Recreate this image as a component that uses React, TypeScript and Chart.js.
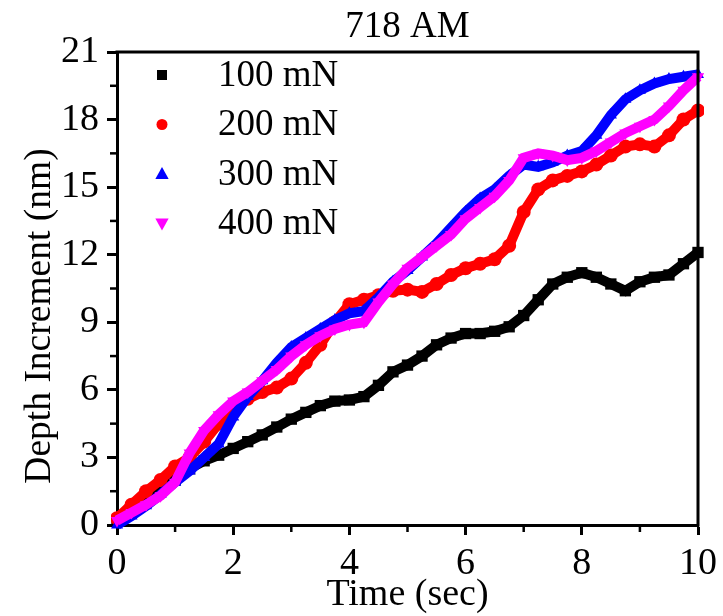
import React, { useEffect, useRef } from 'react';
import { Chart, registerables } from 'chart.js';

Chart.register(...registerables);

const timeSec = [
  0, 0.25, 0.5, 0.75, 1, 1.25, 1.5, 1.75, 2, 2.25, 2.5, 2.75, 3, 3.25, 3.5, 3.75, 4, 4.25, 4.5, 4.75,
  5, 5.25, 5.5, 5.75, 6, 6.25, 6.5, 6.75, 7, 7.25, 7.5, 7.75, 8, 8.25, 8.5, 8.75, 9, 9.25, 9.5, 9.75, 10,
];

const depth100 = [
  0.2, 0.6, 1.0, 1.5, 2.0, 2.5, 2.85, 3.1, 3.4, 3.7, 4.0, 4.35, 4.7, 5.0, 5.3, 5.5, 5.55, 5.7, 6.2, 6.8,
  7.1, 7.5, 8.0, 8.3, 8.5, 8.5, 8.6, 8.8, 9.3, 10.0, 10.7, 11.0, 11.2, 11.0, 10.7, 10.4, 10.8, 11.0, 11.1, 11.6, 12.1,
];

const depth200 = [
  0.3, 0.9, 1.5, 2.0, 2.6, 3.0, 3.7, 4.5, 5.2, 5.6, 5.9, 6.1, 6.5, 7.2, 8.0, 9.0, 9.8, 10.0, 10.2, 10.4,
  10.45, 10.35, 10.7, 11.1, 11.4, 11.6, 11.8, 12.4, 13.9, 14.9, 15.3, 15.5, 15.7, 16.0, 16.4, 16.8, 16.9, 16.8, 17.3, 18.0, 18.4,
];

const depth300 = [
  0.0, 0.4, 0.85, 1.35, 1.9, 2.4, 3.0, 3.6, 4.8, 5.7, 6.4, 7.2, 7.9, 8.3, 8.7, 9.1, 9.4, 9.5, 10.1, 10.8,
  11.3, 11.9, 12.5, 13.2, 13.9, 14.5, 14.9, 15.5, 16.0, 15.9, 16.1, 16.4, 16.6, 17.3, 18.2, 18.9, 19.3, 19.6, 19.8, 19.9, 20.0,
];

const depth400 = [
  0.2, 0.55, 0.9, 1.3, 1.9, 3.2, 4.2, 4.9, 5.5, 5.9, 6.4, 6.9, 7.5, 8.0, 8.4, 8.7, 8.9, 9.0, 9.9, 10.7,
  11.4, 11.9, 12.4, 12.9, 13.6, 14.1, 14.6, 15.3, 16.3, 16.5, 16.4, 16.2, 16.3, 16.6, 17.0, 17.4, 17.7, 18.0, 18.6, 19.3, 19.9,
];

const seriesLabels = ['100 mN', '200 mN', '300 mN', '400 mN'];
const seriesValues = [depth100, depth200, depth300, depth400];
const seriesColors = ['#000000', '#ff0000', '#0000ff', '#ff00ff'];
const seriesMarkers = ['rect', 'circle', 'triangle', 'triangleDown'];

const chartTitle = '718 AM';
const xTitle = 'Time (sec)';
const yTitle = 'Depth Increment (nm)';
const xMin = 0, xMax = 10, xStep = 2;
const yMin = 0, yMax = 21, yStep = 3;

const FONT = "'Liberation Serif', 'Times New Roman', serif";
const FS = 38;

function drawMarker(ctx: CanvasRenderingContext2D, kind: string, x: number, y: number, r: number, color: string) {
  ctx.save();
  ctx.fillStyle = color;
  ctx.beginPath();
  if (kind === 'rect') {
    ctx.rect(x - r, y - r, 2 * r, 2 * r);
  } else if (kind === 'circle') {
    ctx.arc(x, y, r, 0, Math.PI * 2);
  } else if (kind === 'triangle') {
    ctx.moveTo(x, y - r);
    ctx.lineTo(x + r * 0.95, y + r * 0.7);
    ctx.lineTo(x - r * 0.95, y + r * 0.7);
    ctx.closePath();
  } else {
    ctx.moveTo(x, y + r);
    ctx.lineTo(x + r * 0.95, y - r * 0.7);
    ctx.lineTo(x - r * 0.95, y - r * 0.7);
    ctx.closePath();
  }
  ctx.fill();
  ctx.restore();
}

const framePlugin = {
  id: 'frameAndMinor',
  afterDraw(chart: any) {
    const { ctx, chartArea, scales } = chart;
    const xs = scales.x;
    const ys = scales.y;
    ctx.save();
    ctx.strokeStyle = '#000';
    ctx.lineWidth = 3;
    ctx.beginPath();
    ctx.moveTo(chartArea.left - 1.5, chartArea.top);
    ctx.lineTo(chartArea.right, chartArea.top);
    ctx.lineTo(chartArea.right, chartArea.bottom + 1.5);
    ctx.stroke();
    ctx.lineWidth = 2.5;
    for (let v = xMin + xStep / 2; v < xMax; v += xStep) {
      const px = xs.getPixelForValue(v);
      ctx.beginPath();
      ctx.moveTo(px, chartArea.bottom);
      ctx.lineTo(px, chartArea.bottom + 7);
      ctx.stroke();
    }
    for (let v = yMin + yStep / 2; v < yMax; v += yStep) {
      const py = ys.getPixelForValue(v);
      ctx.beginPath();
      ctx.moveTo(chartArea.left, py);
      ctx.lineTo(chartArea.left - 7, py);
      ctx.stroke();
    }
    // title
    ctx.fillStyle = '#000';
    ctx.font = `37px ${FONT}`;
    ctx.textAlign = 'center';
    ctx.textBaseline = 'alphabetic';
    ctx.fillText(chartTitle, (chartArea.left + chartArea.right) / 2, 37);
    // y title
    ctx.save();
    ctx.translate(50, 316);
    ctx.rotate(-Math.PI / 2);
    ctx.font = `37.5px ${FONT}`;
    ctx.fillText(yTitle, 0, 0);
    ctx.restore();
    // legend
    const lx = chartArea.left + 45;
    const tx = chartArea.left + 101;
    const ly0 = chartArea.top + 23;
    const dy = 49.5;
    ctx.font = `37px ${FONT}`;
    ctx.textBaseline = 'middle';
    ctx.textAlign = 'left';
    seriesLabels.forEach((lab, i) => {
      const y = ly0 + i * dy;
      const r = seriesMarkers[i] === 'rect' ? 5 : seriesMarkers[i] === 'circle' ? 5.5 : 7;
      drawMarker(ctx, seriesMarkers[i], lx, y, r, seriesColors[i]);
      ctx.fillStyle = '#000';
      ctx.fillText(lab, tx, y + 1);
    });
    ctx.restore();
  },
};

export default function App() {
  const ref = useRef<HTMLCanvasElement | null>(null);
  useEffect(() => {
    document.body.style.margin = '0';
    const canvas = ref.current;
    if (!canvas) return;
    const datasets = seriesValues.map((vals, i) => ({
      label: seriesLabels[i],
      data: vals.map((v, j) => ({ x: timeSec[j], y: v })),
      borderColor: seriesColors[i],
      backgroundColor: seriesColors[i],
      borderWidth: 10,
      pointStyle: seriesMarkers[i] === 'triangleDown' ? 'triangle' : seriesMarkers[i],
      rotation: seriesMarkers[i] === 'triangleDown' ? 180 : 0,
      pointRadius: seriesMarkers[i] === 'rect' ? 8 : 7,
      pointBorderWidth: 0,
      tension: 0,
      order: 3 - i,
      clip: 6,
    }));
    const chart = new Chart(canvas, {
      type: 'line',
      data: { datasets },
      options: {
        animation: false,
        responsive: false,
        maintainAspectRatio: false,
        layout: { padding: { left: 0, right: 23, top: 52, bottom: 0 } },
        plugins: {
          legend: { display: false },
          tooltip: { enabled: false },
          title: { display: false },
        },
        scales: {
          x: {
            type: 'linear',
            min: xMin,
            max: xMax,
            afterFit: (s: any) => { s.height = 91; },
            ticks: { stepSize: xStep, color: '#000', font: { family: FONT, size: FS }, padding: 6, maxRotation: 0 },
            grid: { drawOnChartArea: false, drawTicks: true, tickLength: 10, tickWidth: 3, tickColor: '#000' },
            border: { display: true, color: '#000', width: 3 },
            title: {
              display: true,
              text: xTitle,
              color: '#000',
              font: { family: FONT, size: FS, lineHeight: 1.1 },
              padding: { top: 0, bottom: 0 },
            },
          },
          y: {
            type: 'linear',
            min: yMin,
            max: yMax,
            afterFit: (s: any) => { s.width = 117; },
            ticks: { stepSize: yStep, color: '#000', font: { family: FONT, size: FS }, padding: 8 },
            grid: { drawOnChartArea: false, drawTicks: true, tickLength: 10, tickWidth: 3, tickColor: '#000' },
            border: { display: true, color: '#000', width: 3 },
            title: { display: false },
          },
        },
      },
      plugins: [framePlugin],
    });
    return () => chart.destroy();
  }, []);
  return (
    <div style={{ width: 723, height: 616, background: '#fff' }}>
      <canvas ref={ref} width={723} height={616} />
    </div>
  );
}
